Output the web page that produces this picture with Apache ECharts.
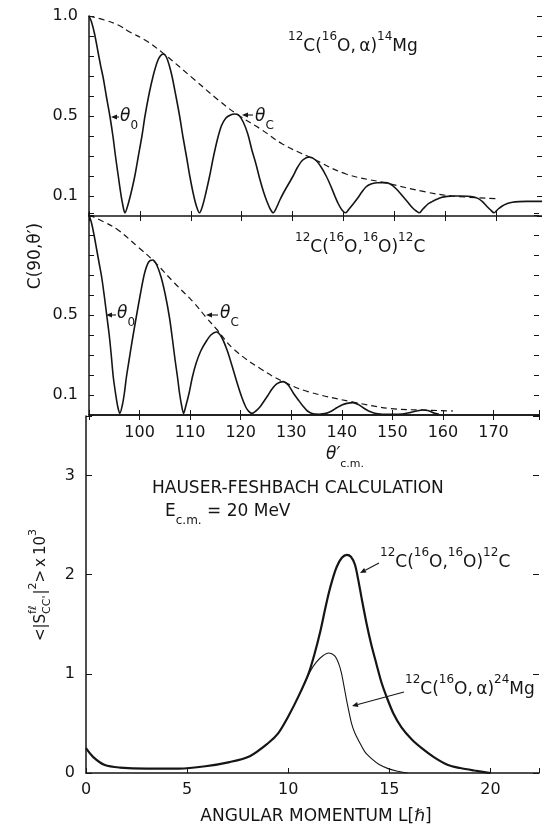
<!DOCTYPE html>
<html>
<head>
<meta charset="utf-8">
<script src="https://cdn.jsdelivr.net/npm/echarts@6/dist/echarts.min.js"></script>
<style>
html, body { margin: 0; padding: 0; background: #fff; }
#chart { width: 542px; height: 829px; }
</style>
</head>
<body>
<div id="chart"></div>
<script>
// top panel: 12C(16O,a) -- [theta' (deg), C(90,theta')]
var topCurve = [
  [90.0, 1.0], [90.5, 0.97], [91.1, 0.91], [91.7, 0.83], [92.3, 0.75], [92.8, 0.69],
  [93.4, 0.60], [94.1, 0.50], [94.7, 0.40], [95.2, 0.30], [95.75, 0.20], [96.2, 0.12],
  [96.6, 0.06], [97.06, 0.016], [97.7, 0.06], [98.4, 0.13], [99.0, 0.20], [99.7, 0.30],
  [100.4, 0.40], [101.0, 0.50], [101.8, 0.61], [102.6, 0.70], [103.4, 0.77], [104.0, 0.80],
  [104.6, 0.81], [105.2, 0.795], [105.8, 0.75], [106.3, 0.70], [107.0, 0.61], [107.8, 0.50],
  [108.5, 0.39], [109.2, 0.29], [109.8, 0.20], [110.5, 0.11], [111.1, 0.05], [111.7, 0.016],
  [112.3, 0.05], [113.0, 0.12], [113.7, 0.20], [114.4, 0.29], [115.2, 0.38], [116.0, 0.45],
  [116.9, 0.49], [117.8, 0.505], [118.6, 0.51], [119.4, 0.505], [120.3, 0.47], [121.2, 0.41],
  [122.0, 0.33], [122.8, 0.26], [123.5, 0.19], [124.3, 0.12], [125.0, 0.07], [125.6, 0.035],
  [126.2, 0.016], [126.8, 0.04], [127.5, 0.08], [128.3, 0.12], [129.2, 0.16], [130.1, 0.20],
  [131.0, 0.245], [132.0, 0.28], [133.3, 0.295], [134.5, 0.28], [135.6, 0.245], [136.6, 0.20],
  [137.5, 0.15], [138.3, 0.10], [139.0, 0.06], [139.7, 0.03], [140.4, 0.016], [141.1, 0.035],
  [141.9, 0.06], [142.8, 0.09], [143.6, 0.12], [144.4, 0.145], [145.4, 0.16], [146.6, 0.166],
  [148.0, 0.167], [149.2, 0.16], [150.4, 0.135], [151.6, 0.10], [152.6, 0.07], [153.6, 0.04],
  [154.3, 0.025], [154.9, 0.016], [155.6, 0.035], [156.6, 0.06], [157.4, 0.072], [158.2, 0.082],
  [159.2, 0.092], [160.4, 0.098], [161.6, 0.10], [163.0, 0.10], [164.4, 0.099], [165.4, 0.096],
  [166.4, 0.088], [167.3, 0.072], [168.1, 0.05], [168.9, 0.03], [169.6, 0.016], [170.4, 0.035],
  [171.2, 0.05], [172.2, 0.062], [173.2, 0.069], [174.5, 0.072], [176.0, 0.073], [179.0, 0.073]
];
var topEnvelope = [
  [90, 1.0], [93, 0.98], [95.75, 0.955], [98, 0.92], [101, 0.88], [104.6, 0.813],
  [110.8, 0.68], [115.4, 0.58], [119, 0.51], [124, 0.43], [128, 0.36], [133.3, 0.295],
  [140.5, 0.21], [148, 0.167], [156.2, 0.12], [161.4, 0.10], [170.6, 0.086]
];

// middle panel: 12C(16O,16O)12C
var midCurve = [
  [90.0, 1.0], [90.5, 0.96], [91.0, 0.90], [91.5, 0.83], [92.0, 0.76], [92.5, 0.69],
  [93.0, 0.60], [93.5, 0.50], [94.0, 0.40], [94.4, 0.30], [94.8, 0.19], [95.3, 0.10],
  [95.7, 0.04], [96.1, 0.008], [96.6, 0.05], [97.0, 0.11], [97.4, 0.19], [97.9, 0.27],
  [98.6, 0.38], [99.35, 0.49], [100.2, 0.61], [101.0, 0.71], [101.8, 0.765], [102.6, 0.775],
  [103.4, 0.75], [104.25, 0.69], [105.1, 0.60], [105.9, 0.49], [106.5, 0.38], [107.0, 0.28],
  [107.5, 0.19], [107.9, 0.11], [108.3, 0.05], [108.7, 0.008], [109.2, 0.05], [109.8, 0.11],
  [110.45, 0.19], [111.2, 0.26], [112.1, 0.32], [113.1, 0.365], [114.1, 0.40], [115.2, 0.415],
  [116.2, 0.39], [117.3, 0.325], [118.3, 0.245], [119.3, 0.16], [120.2, 0.09], [121.0, 0.04],
  [121.6, 0.018], [122.2, 0.008], [123.0, 0.02], [123.8, 0.04], [124.5, 0.065], [125.3, 0.095],
  [126.2, 0.13], [127.2, 0.157], [128.4, 0.167], [129.4, 0.15], [130.4, 0.11], [131.4, 0.075],
  [132.3, 0.045], [133.2, 0.02], [134.3, 0.006], [135.5, 0.004], [136.9, 0.008], [138.0, 0.02],
  [139.0, 0.036], [140.0, 0.05], [141.0, 0.058], [142.2, 0.062], [143.3, 0.052], [144.3, 0.035],
  [145.3, 0.02], [146.5, 0.009], [148.0, 0.004], [150.0, 0.003], [152.0, 0.005], [153.5, 0.012],
  [154.8, 0.02], [156.0, 0.025], [157.2, 0.021], [158.2, 0.01], [159.2, 0.003]
];
var midEnvelope = [
  [90, 1.0], [93, 0.965], [95.75, 0.925], [99.7, 0.84], [102.6, 0.775], [106.9, 0.66],
  [110.8, 0.56], [113.1, 0.49], [115.2, 0.43], [118.6, 0.33], [124, 0.23], [128.4, 0.167],
  [133.3, 0.117], [142.2, 0.065], [149.7, 0.032], [155.9, 0.025], [162, 0.02]
];

// bottom panel: Hauser-Feshbach, [L, <|S|^2> x 1e3]
var hfElastic = [
  [0, 0.25], [0.36, 0.16], [0.93, 0.08], [1.67, 0.055], [3.0, 0.045], [4.6, 0.045],
  [5.9, 0.068], [7.1, 0.11], [8.1, 0.17], [9.0, 0.30], [9.5, 0.40], [10.0, 0.57],
  [10.5, 0.77], [11.0, 1.0], [11.3, 1.2], [11.6, 1.44], [11.8, 1.63], [12.0, 1.81],
  [12.2, 1.96], [12.4, 2.08], [12.65, 2.17], [12.9, 2.20], [13.1, 2.18], [13.3, 2.10],
  [13.46, 1.95], [13.65, 1.74], [13.87, 1.51], [14.1, 1.30], [14.36, 1.10], [14.6, 0.92],
  [14.86, 0.77], [15.2, 0.60], [15.6, 0.46], [16.1, 0.34], [16.6, 0.25], [17.2, 0.16],
  [17.9, 0.08], [18.5, 0.05], [19.2, 0.025], [20.0, 0.0]
];
var hfAlpha = [
  [10.8, 0.9], [11.1, 1.03], [11.4, 1.12], [11.7, 1.18], [12.0, 1.21], [12.3, 1.18],
  [12.5, 1.10], [12.64, 1.0], [12.89, 0.73], [13.13, 0.50], [13.3, 0.40], [13.55, 0.30],
  [13.8, 0.21], [14.12, 0.145], [14.5, 0.085], [14.94, 0.044], [15.4, 0.018], [15.9, 0.0]
];

var topYLabels = [1.0, 0.5, 0.1];
var midYLabels = [0.5, 0.1];
var angleLabels = [100, 110, 120, 130, 140, 150, 160, 170];
var lLabels = [0, 5, 10, 15, 20];
var hfYLabels = [0, 1, 2, 3];

var INK = '#151515';
var FONT = 'DejaVu Sans';

function pick(list, dec) {
  return function (v) {
    for (var i = 0; i < list.length; i++) {
      if (Math.abs(v - list[i]) < 1e-6) return dec ? list[i].toFixed(dec) : String(list[i]);
    }
    return '';
  };
}

var ctx = document.createElement('canvas').getContext('2d');
function tw(t, size, italic) {
  ctx.font = (italic ? 'italic ' : '') + size + 'px ' + FONT;
  return ctx.measureText(t).width;
}

// pieces: [text, kind]; n = normal, i = italic, s = superscript, b = subscript
function compose(x, cy, pieces, small) {
  var main = 17, pos = 0, kids = [];
  small = small || 12;
  pieces.forEach(function (p) {
    var k = p[1], size = (k === 's' || k === 'b') ? small : main;
    var dy = k === 's' ? -10 : (k === 'b' ? 9 : 0);
    kids.push({ type: 'text', x: pos, y: dy, style: {
      text: p[0], fontSize: size, fontFamily: FONT, fontStyle: k === 'i' ? 'italic' : 'normal',
      fill: INK, align: 'left', verticalAlign: 'middle' } });
    pos += tw(p[0], size, k === 'i');
  });
  return { type: 'group', x: x, y: cy, children: kids };
}
function reacO(x, cy) {
  return compose(x, cy, [['12', 's'], ['C(', 'n'], ['16', 's'], ['O,', 'n'], ['16', 's'], ['O)', 'n'], ['12', 's'], ['C', 'n']]);
}
function reacA(x, cy, a) {
  return compose(x, cy, [['12', 's'], ['C(', 'n'], ['16', 's'], ['O,\u2009\u03b1)', 'n'], [a, 's'], ['Mg', 'n']]);
}
function arrow(x1, y1, x2, y2) {
  var a = Math.atan2(y2 - y1, x2 - x1), L = 6, W = 2.6;
  var bx = x2 - L * Math.cos(a), by = y2 - L * Math.sin(a);
  return [
    { type: 'line', shape: { x1: x1, y1: y1, x2: bx, y2: by }, style: { stroke: INK, lineWidth: 1.1 } },
    { type: 'polygon', shape: { points: [[x2, y2], [bx - W * Math.sin(a), by + W * Math.cos(a)], [bx + W * Math.sin(a), by - W * Math.cos(a)]] }, style: { fill: INK } }
  ];
}

// rotated y label of bottom panel
function hfName() {
  var m = 15, s = 11, parts = [], pos = 0;
  function add(t, size, dy) {
    parts.push({ t: t, size: size, x: pos, dy: dy });
    pos += tw(t, size);
  }
  add('<|S', m, 0);
  var p0 = pos;
  parts.push({ t: 'f\u2113', size: s, x: p0, dy: -8 });
  parts.push({ t: "CC'", size: s, x: p0, dy: 6 });
  pos += Math.max(tw('f\u2113', s), tw("CC'", s)) + 1;
  add('|', m, 0);
  add('2', s, -8);
  add('>\u2009x\u200910', m, 0);
  add('3', s, -8);
  var off = -pos / 2;
  return {
    type: 'group', x: 41, y: 585, rotation: Math.PI / 2,
    children: parts.map(function (p) {
      return { type: 'text', x: p.x + off, y: p.dy, style: { text: p.t, fontSize: p.size, fontFamily: FONT, fill: INK, align: 'left', verticalAlign: 'middle' } };
    })
  };
}

var graphics = [
  reacA(288, 47, '14'),
  reacO(295, 248),
  reacO(380, 563),
  reacA(405, 690, '24'),
  compose(120, 117, [['\u03b8', 'i'], ['0', 'b']]),
  compose(255, 117, [['\u03b8', 'i'], ['C', 'b']]),
  compose(117, 314, [['\u03b8', 'i'], ['0', 'b']]),
  compose(220, 314, [['\u03b8', 'i'], ['C', 'b']]),
  compose(326, 455, [['\u03b8\u2032', 'i'], ['c.m.', 'b']], 11),
  compose(165, 512, [['E', 'n'], ['c.m.', 'b'], [' = 20 MeV', 'n']]),
  { type: 'text', x: 152, y: 489, style: { text: 'HAUSER-FESHBACH CALCULATION', fontSize: 17, fontFamily: FONT, fill: INK, verticalAlign: 'middle' } },
  { type: 'text', x: 316, y: 817, style: { text: 'ANGULAR MOMENTUM L[\u210f]', fontSize: 17, fontFamily: FONT, fill: INK, align: 'center', verticalAlign: 'middle' } },
  { type: 'text', x: 36, y: 256, rotation: Math.PI / 2, style: { text: "C(90,\u03b8\u2032)", fontSize: 17, fontFamily: FONT, fill: INK, align: 'center', verticalAlign: 'middle' } },
  hfName()
].concat(
  arrow(119, 117, 111, 117),
  arrow(253, 115, 242, 115),
  arrow(116, 315, 106, 315),
  arrow(218, 315, 206, 315),
  arrow(379, 563, 360, 573),
  arrow(404, 692, 352, 706)
);

var tick = { inside: true, length: 5, lineStyle: { color: INK, width: 1 } };
var line = { lineStyle: { color: INK, width: 1.5 } };
var lbl = { color: INK, fontFamily: FONT, fontSize: 16 };

var chart = echarts.init(document.getElementById('chart'));
chart.setOption({
  animation: false,
  backgroundColor: '#fff',
  grid: [
    { left: 89, top: 16, right: 0, height: 200 },
    { left: 89, top: 213, right: 0, height: 202 },
    { left: 86, top: 416, right: 0, height: 357 }
  ],
  xAxis: [
    { type: 'value', gridIndex: 0, min: 90, max: 179, interval: 10, position: 'bottom',
      axisLine: { show: false }, axisTick: tick, axisLabel: { show: false }, splitLine: { show: false } },
    { type: 'value', gridIndex: 0, min: 90, max: 179, interval: 10, position: 'top',
      axisLine: line, axisTick: tick, axisLabel: { show: false }, splitLine: { show: false } },
    { type: 'value', gridIndex: 1, min: 90, max: 179, interval: 10, position: 'top',
      axisLine: line, axisTick: tick, axisLabel: { show: false }, splitLine: { show: false } },
    { type: 'value', gridIndex: 1, min: 90, max: 179, interval: 10, position: 'bottom',
      axisLine: line, axisTick: tick, splitLine: { show: false },
      axisLabel: Object.assign({ margin: 10, formatter: pick(angleLabels) }, lbl) },
    { type: 'value', gridIndex: 2, min: 0, max: 22.4, interval: 5, position: 'bottom',
      axisLine: line, axisTick: tick, splitLine: { show: false },
      axisLabel: Object.assign({ margin: 9, formatter: pick(lLabels) }, lbl) }
  ],
  yAxis: [
    { type: 'value', gridIndex: 0, min: 0, max: 1, interval: 0.1, position: 'left',
      axisLine: line, axisTick: tick, splitLine: { show: false },
      axisLabel: Object.assign({ margin: 11, formatter: pick(topYLabels, 1) }, lbl) },
    { type: 'value', gridIndex: 0, min: 0, max: 1, interval: 0.1, position: 'right',
      axisLine: { show: false }, axisTick: tick, axisLabel: { show: false }, splitLine: { show: false } },
    { type: 'value', gridIndex: 1, min: 0, max: 1.01, interval: 0.1, position: 'left',
      axisLine: line, axisTick: tick, splitLine: { show: false },
      axisLabel: Object.assign({ margin: 11, formatter: pick(midYLabels, 1) }, lbl) },
    { type: 'value', gridIndex: 1, min: 0, max: 1.01, interval: 0.1, position: 'right',
      axisLine: { show: false }, axisTick: tick, axisLabel: { show: false }, splitLine: { show: false } },
    { type: 'value', gridIndex: 2, min: 0, max: 3.6, interval: 1, position: 'left',
      axisLine: line, axisTick: { inside: true, length: 6, lineStyle: { color: INK } }, splitLine: { show: false },
      axisLabel: Object.assign({ margin: 11, formatter: pick(hfYLabels) }, lbl) },
    { type: 'value', gridIndex: 2, min: 0, max: 3.6, interval: 1, position: 'right',
      axisLine: { show: false }, axisTick: { inside: true, length: 6, lineStyle: { color: INK } },
      axisLabel: { show: false }, splitLine: { show: false } }
  ],
  series: [
    { type: 'line', xAxisIndex: 0, yAxisIndex: 0, data: topCurve, smooth: 0.3, symbol: 'none',
      lineStyle: { color: INK, width: 1.6 } },
    { type: 'line', xAxisIndex: 0, yAxisIndex: 0, data: topEnvelope, smooth: 0.4, symbol: 'none',
      lineStyle: { color: INK, width: 1.2, type: [6, 4] } },
    { type: 'line', xAxisIndex: 3, yAxisIndex: 2, data: midCurve, smooth: 0.3, symbol: 'none',
      lineStyle: { color: INK, width: 1.6 } },
    { type: 'line', xAxisIndex: 3, yAxisIndex: 2, data: midEnvelope, smooth: 0.4, symbol: 'none',
      lineStyle: { color: INK, width: 1.2, type: [6, 4] } },
    { type: 'line', xAxisIndex: 4, yAxisIndex: 4, data: hfElastic, smooth: 0.3, symbol: 'none',
      lineStyle: { color: INK, width: 2.2 } },
    { type: 'line', xAxisIndex: 4, yAxisIndex: 4, data: hfAlpha, smooth: 0.3, symbol: 'none',
      lineStyle: { color: INK, width: 1.1 } }
  ],
  graphic: graphics
});
</script>
</body>
</html>
